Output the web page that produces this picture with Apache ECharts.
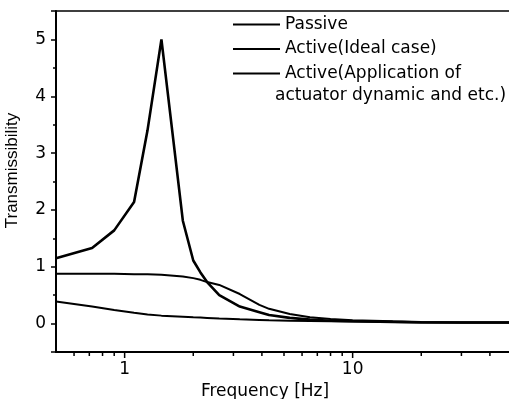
<!DOCTYPE html>
<html>
<head>
<meta charset="utf-8">
<script src="https://cdn.jsdelivr.net/npm/echarts@6.0.0/dist/echarts.min.js"></script>
<style>
  html, body { margin: 0; padding: 0; background: #fff; }
  #main { width: 509px; height: 399px; }
</style>
</head>
<body>
<div id="main"></div>
<script>
  // frequency samples [Hz]
  var freqs = [0.5, 0.72, 0.9, 1.1, 1.26, 1.45, 1.8, 2.0, 2.15, 2.3, 2.6, 3.2, 3.9, 4.3, 5.3, 6.5, 8, 10, 15, 20, 30, 50];
  var passive = [1.15, 1.33, 1.64, 2.14, 3.4, 5.0, 1.81, 1.11, 0.9, 0.73, 0.5, 0.3, 0.2, 0.15, 0.1, 0.07, 0.05, 0.04, 0.03, 0.02, 0.02, 0.02];
  var activeIdeal = [0.875, 0.875, 0.875, 0.87, 0.87, 0.86, 0.83, 0.8, 0.77, 0.73, 0.68, 0.52, 0.33, 0.26, 0.17, 0.11, 0.08, 0.06, 0.04, 0.03, 0.02, 0.02];
  var activeApp = [0.39, 0.3, 0.24, 0.19, 0.16, 0.14, 0.12, 0.11, 0.105, 0.1, 0.09, 0.075, 0.065, 0.06, 0.05, 0.045, 0.04, 0.035, 0.03, 0.025, 0.02, 0.02];

  var seriesNames = ['Passive', 'Active(Ideal case)', 'Active(Application of actuator dynamic and etc.)'];
  var legendFirstLines = ['Passive', 'Active(Ideal case)', 'Active(Application of'];
  var legendSecondLine = 'actuator dynamic and etc.)';

  var xMinorTicks = [0.6, 0.7, 0.8, 0.9, 2, 3, 4, 5, 6, 7, 8, 9, 20, 30, 40];
  var xMajorTicks = [1, 10];
  var xTitle = 'Frequency [Hz]';
  var yTitle = 'Transmissibility';

  var X_MIN = 0.5, X_MAX = 50, Y_MIN = -0.5, Y_MAX = 5.5;

  var hFont = 'DejaVu Sans';
  var vFont = 'Liberation Sans';

  function pairs(ys) {
    return freqs.map(function (f, i) { return [f, ys[i]]; });
  }

  function lineSeries(name, ys, width) {
    return {
      name: name,
      type: 'line',
      data: pairs(ys),
      symbol: 'none',
      showSymbol: false,
      silent: true,
      color: '#000',
      lineStyle: { color: '#000', width: width },
      z: 4
    };
  }

  var myChart = echarts.init(document.getElementById('main'));
  myChart.setOption({
    animation: false,
    grid: {
      left: 56, right: -3, top: 11, bottom: 47,
      outerBoundsMode: 'none',
      containLabel: false,
      show: true, borderColor: '#000', borderWidth: 1.5
    },
    legend: {
      data: seriesNames,
      orient: 'vertical',
      left: 233,
      top: 16,
      padding: 0,
      icon: 'rect',
      itemWidth: 47,
      itemHeight: 2.2,
      itemGap: 7.5,
      selectedMode: false,
      textStyle: { fontFamily: hFont, fontSize: 17, color: '#000' },
      formatter: function (name) {
        return legendFirstLines[seriesNames.indexOf(name)];
      }
    },
    graphic: [{
      type: 'text',
      left: 275,
      top: 87,
      style: { text: legendSecondLine, font: '17px "DejaVu Sans"', fill: '#000' }
    }],
    xAxis: {
      type: 'log',
      logBase: 10,
      min: X_MIN,
      max: X_MAX,
      name: xTitle,
      nameLocation: 'middle',
      nameGap: 29,
      nameTextStyle: { fontFamily: hFont, fontSize: 17, color: '#000', padding: [0, 38, 0, 0] },
      axisLine: { onZero: false, lineStyle: { color: '#000', width: 2 } },
      axisTick: { show: false },
      splitLine: { show: false },
      axisLabel: {
        showMinLabel: false, showMaxLabel: false,
        margin: 9, fontFamily: hFont, fontSize: 17, color: '#000'
      }
    },
    yAxis: {
      type: 'value',
      min: Y_MIN,
      max: Y_MAX,
      splitNumber: 6,
      name: yTitle,
      nameLocation: 'middle',
      nameGap: 35,
      nameRotate: 90,
      nameTextStyle: { fontFamily: vFont, fontSize: 17, color: '#000', padding: [0, 0, 0, 22] },
      axisLine: { show: true, onZero: false, lineStyle: { color: '#000', width: 2 } },
      axisTick: { show: true, length: 5, lineStyle: { color: '#000', width: 1.5 } },
      minorTick: { show: true, splitNumber: 2, length: 3, lineStyle: { color: '#000', width: 1.5 } },
      splitLine: { show: false },
      axisLabel: {
        showMinLabel: false, showMaxLabel: false,
        margin: 10, fontFamily: hFont, fontSize: 17, color: '#000'
      }
    },
    series: [
      lineSeries(seriesNames[0], passive, 2.6),
      lineSeries(seriesNames[1], activeIdeal, 2),
      lineSeries(seriesNames[2], activeApp, 2),
      {
        // log-scale tick marks below the frequency axis
        name: 'xticks',
        type: 'custom',
        silent: true,
        clip: false,
        data: xMinorTicks.concat(xMajorTicks).map(function (f) { return [f, Y_MIN]; }),
        renderItem: function (params, api) {
          var f = api.value(0);
          var p = api.coord([f, Y_MIN]);
          var len = xMajorTicks.indexOf(f) >= 0 ? 6 : 4;
          return {
            type: 'line',
            shape: { x1: p[0], y1: p[1], x2: p[0], y2: p[1] + len },
            style: { stroke: '#000', lineWidth: 1.5 }
          };
        }
      }
    ]
  });
</script>
</body>
</html>
